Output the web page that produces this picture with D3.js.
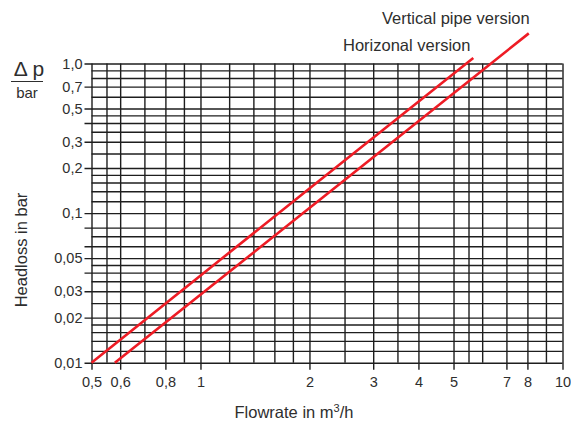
<!DOCTYPE html>
<html>
<head>
<meta charset="utf-8">
<script src="https://cdn.jsdelivr.net/npm/d3@7"></script>
<style>
  body { margin: 0; background: #fff; }
  svg { font-family: "Liberation Sans", Arial, sans-serif; }
  .grid line { stroke: #1e1e1e; stroke-width: 1.4; }
  .grid .domain { display: none; }
  .tick text { fill: #2e2e2e; font-size: 14.5px; }
  .title { fill: #2e2e2e; font-size: 16.5px; }
</style>
</head>
<body>
<script>
// flowrate grid lines (m3/h) and the labelled ones
const xGrid = [0.5, 0.55, 0.6, 0.7, 0.8, 0.9, 1, 1.2, 1.4, 1.6, 1.8, 2, 2.5, 3, 3.5, 4, 5, 5.5, 6, 7, 8, 9, 10];
const xTicks = [0.5, 0.6, 0.8, 1, 2, 3, 4, 5, 7, 8, 10];
const xLabels = ['0,5', '0,6', '0,8', '1', '2', '3', '4', '5', '7', '8', '10'];

// headloss grid lines (bar)
const yGrid = [1, 0.9, 0.8, 0.7, 0.6, 0.5, 0.45, 0.4, 0.35, 0.3, 0.25, 0.2, 0.18, 0.16, 0.14, 0.12, 0.1,
  0.08, 0.07, 0.06, 0.05, 0.045, 0.04, 0.035, 0.03, 0.025, 0.02, 0.018, 0.016, 0.014, 0.012, 0.01];
const yTicks = [1, 0.7, 0.5, 0.4, 0.3, 0.2, 0.1, 0.08, 0.06, 0.05, 0.04, 0.03, 0.02, 0.01];
const yLabels = ['1,0', '0,7', '0,5', '', '0,3', '0,2', '0,1', '', '', '0,05', '', '0,03', '0,02', '0,01'];

// curves: [flowrate, headloss]
const horizontal = [[0.5, 0.01], [2, 0.146], [5.67, 1.09]];
const vertical = [[0.58, 0.01], [2, 0.108], [8.07, 1.59]];
const curveNames = ['Horizonal version', 'Vertical pipe version'];

const config = {
  width: 571,
  height: 426,
  left: 91.5,
  right: 562.5,
  top: 63.5,
  bottom: 362.7,
  tickLen: 7,
};

const svg = d3.select('body').append('svg')
  .attr('width', config.width)
  .attr('height', config.height);

const x = d3.scaleLog().domain([0.5, 10]).range([config.left, config.right]);
const y = d3.scaleLog().domain([0.01, 1]).range([config.bottom, config.top]);

const plotW = config.right - config.left;
const plotH = config.bottom - config.top;

// plain grid (labelled lines are drawn by the tick axes below, not twice)
svg.append('g')
  .attr('class', 'grid')
  .attr('transform', `translate(0,${config.bottom})`)
  .call(d3.axisBottom(x).tickValues(xGrid.filter((v) => !xTicks.includes(v)))
    .tickSize(-plotH).tickFormat(''));

svg.append('g')
  .attr('class', 'grid')
  .attr('transform', `translate(${config.left},0)`)
  .call(d3.axisLeft(y).tickValues(yGrid.filter((v) => !yTicks.includes(v)))
    .tickSize(-plotW).tickFormat(''));

// labelled ticks, sticking out of the grid
svg.append('g')
  .attr('class', 'grid')
  .attr('transform', `translate(0,${config.top})`)
  .call(d3.axisBottom(x).tickValues(xTicks).tickSize(plotH + config.tickLen).tickPadding(7)
    .tickFormat((d, i) => xLabels[i]));

svg.append('g')
  .attr('class', 'grid')
  .attr('transform', `translate(${config.right},0)`)
  .call(d3.axisLeft(y).tickValues(yTicks).tickSize(plotW + config.tickLen).tickPadding(2)
    .tickFormat((d, i) => yLabels[i]));

// headloss curves
let line = d3.line()
  .x((d) => x(d[0]))
  .y((d) => y(d[1]));

svg.selectAll('.curve')
  .data([horizontal, vertical])
  .enter().append('path')
  .attr('class', 'curve')
  .attr('d', line)
  .style('fill', 'none')
  .style('stroke', '#ee1c25')
  .style('stroke-width', 2.6);

// curve names
svg.append('text')
  .attr('class', 'title')
  .attr('x', 343)
  .attr('y', 51)
  .text(curveNames[0]);

svg.append('text')
  .attr('class', 'title')
  .attr('x', 382)
  .attr('y', 24)
  .text(curveNames[1]);

// axis titles
svg.append('text')
  .attr('class', 'title')
  .attr('x', 294)
  .attr('y', 418)
  .attr('text-anchor', 'middle')
  .html('Flowrate in m<tspan dy="-6" font-size="11px">3</tspan><tspan dy="6">/h</tspan>');

svg.append('text')
  .attr('class', 'title')
  .attr('transform', 'translate(27,250) rotate(-90)')
  .attr('text-anchor', 'middle')
  .text('Headloss in bar');

// delta p over bar
svg.append('text')
  .attr('x', 29)
  .attr('y', 76)
  .attr('text-anchor', 'middle')
  .style('font-size', '21px')
  .style('fill', '#2e2e2e')
  .text('\u0394 p');

svg.append('line')
  .attr('x1', 11).attr('x2', 43)
  .attr('y1', 81.5).attr('y2', 81.5)
  .style('stroke', '#2e2e2e')
  .style('stroke-width', 1);

svg.append('text')
  .attr('x', 27)
  .attr('y', 98)
  .attr('text-anchor', 'middle')
  .style('font-size', '15px')
  .style('fill', '#2e2e2e')
  .text('bar');
</script>
</body>
</html>
